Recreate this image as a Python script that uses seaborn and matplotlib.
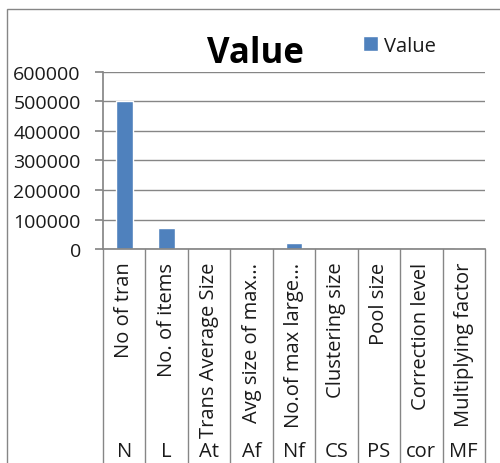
import pandas as pd
import matplotlib
matplotlib.use("Agg")
import matplotlib.pyplot as plt
import matplotlib.transforms as mtransforms
from matplotlib.patches import Rectangle
import seaborn as sns

# ── Data ─────────────────────────────────────────────────────────────────────
names = ["No of tran", "No. of items", "Trans Average Size", "Avg size of max...",
         "No.of max large...", "Clustering size", "Pool size", "Correction level",
         "Multiplying factor"]
abbrevs = ["N", "L", "At", "Af", "Nf", "CS", "PS", "cor", "MF"]
values = [500000, 72000, 1500, 1500, 22000, 1500, 1500, 1500, 2500]
y_ticks = [0, 100000, 200000, 300000, 400000, 500000, 600000]

df = pd.DataFrame({"name": names, "Value": values})

# ── Styling ──────────────────────────────────────────────────────────────────
sns.set_theme(style="white")
plt.rcParams["font.family"] = ["Open Sans", "DejaVu Sans"]
BAR_BLUE = "#4F81BD"
GRID = "#868686"
TEXT = "#1a1a1a"

fig = plt.figure(figsize=(5.0, 4.64), dpi=100)
ax = fig.add_axes([0.206, 0.461, 0.764, 0.382])

sns.barplot(data=df, x="name", y="Value", color=BAR_BLUE, width=0.4,
            saturation=1, ax=ax, label="Value")

ax.set_ylim(0, 600000)
ax.set_yticks(y_ticks)
ax.set_yticklabels([str(v) for v in y_ticks], fontsize=14, color=TEXT)
ax.set_xlim(-0.5, len(names) - 0.5)
ax.set_xlabel("")
ax.set_ylabel("")
ax.yaxis.grid(True, color=GRID, linewidth=1)
ax.set_axisbelow(True)
for side in ["top", "right"]:
    ax.spines[side].set_visible(False)
for side in ["left", "bottom"]:
    ax.spines[side].set_color(GRID)
ax.tick_params(axis="y", length=6, color=GRID, direction="out", left=True, pad=10)
ax.tick_params(axis="x", length=0, pad=9)
ax.set_xticks(range(len(names)))
ax.set_xticklabels(names, rotation=90, fontsize=14.5, color=TEXT, va="top")

# second level category labels + separators
trans = mtransforms.blended_transform_factory(ax.transData, ax.transAxes)
for i, ab in enumerate(abbrevs):
    ax.text(i, -1.14, ab, transform=trans, ha="center", va="center",
            fontsize=14.5, color=TEXT)
for i in range(len(names) + 1):
    ax.plot([i - 0.5, i - 0.5], [0, -1.25], transform=trans, color=GRID,
            linewidth=1, clip_on=False)

ax.set_title("Value", fontsize=25, fontweight="bold", color="black",
             x=0.4, y=1.055, pad=0)
ax.legend(loc="upper left", bbox_to_anchor=(0.68, 1.205), frameon=False,
          fontsize=14.5, handlelength=0.75, handleheight=0.75, handletextpad=0.3,
          borderaxespad=0, borderpad=0, labelcolor=TEXT)

# chart border
fig.patches.append(Rectangle((0.014, -0.1), 1.2, 0.1 + 1 - 10 / 464,
                             transform=fig.transFigure, fill=False,
                             edgecolor=GRID, linewidth=1))

fig.savefig("out.png", dpi=100)
